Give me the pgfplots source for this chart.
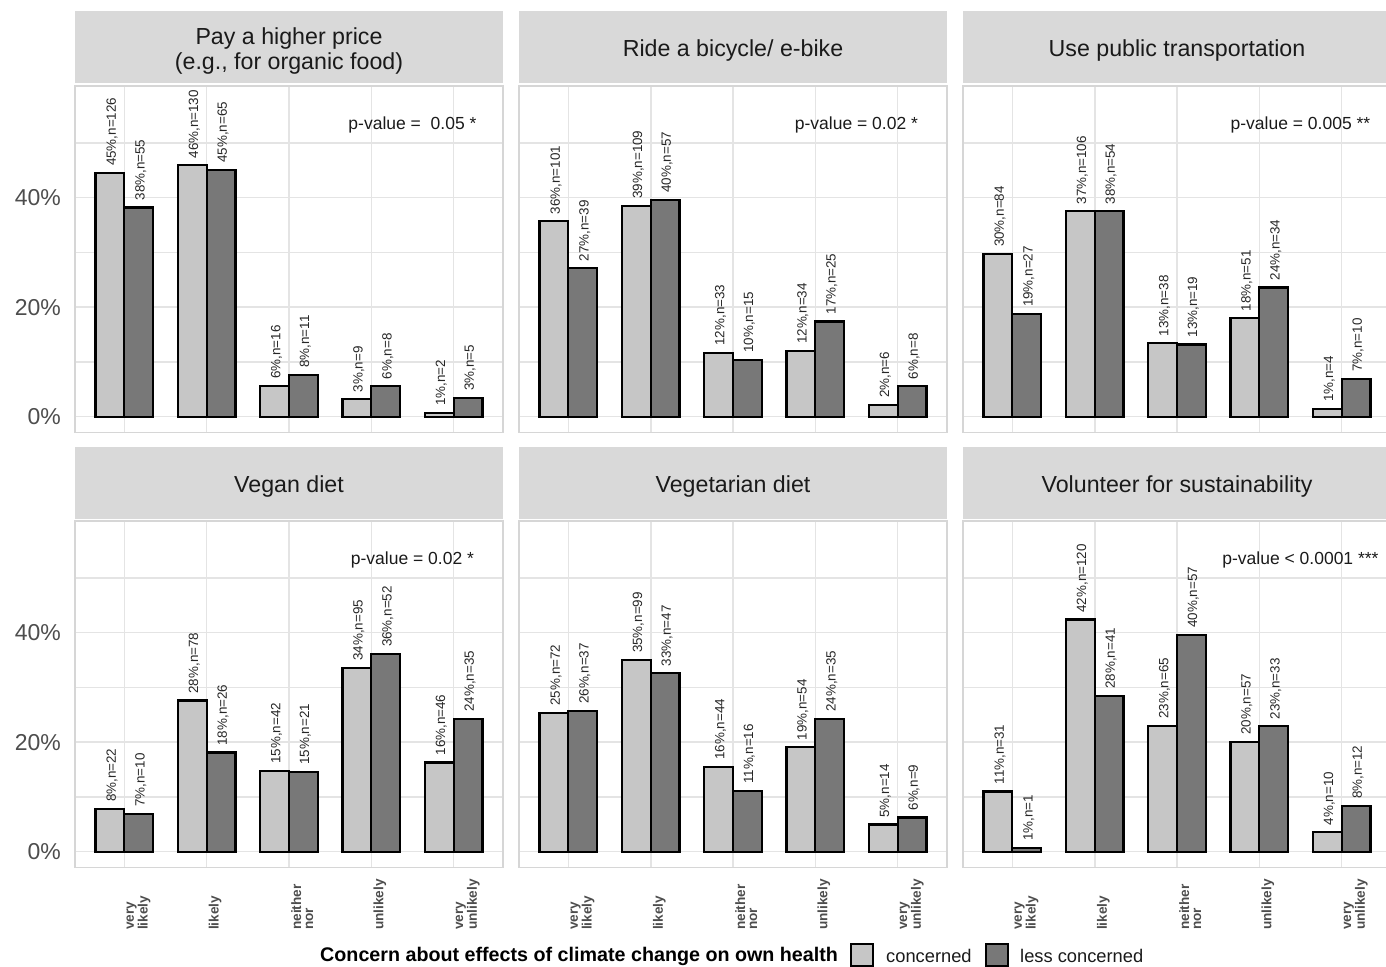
\documentclass[border=0pt]{standalone}
\usepackage{pgfplots}
\pgfplotsset{compat=1.18}
\usepackage{fontspec}
\setmainfont{Liberation Sans}
\definecolor{cc}{RGB}{198,198,198}
\definecolor{lc}{RGB}{120,120,120}
\definecolor{gridc}{RGB}{228,228,228}
\definecolor{borderc}{RGB}{214,214,214}
\definecolor{stripc}{RGB}{217,217,217}
\definecolor{axtext}{RGB}{77,77,77}
\definecolor{strtext}{RGB}{26,26,26}
\definecolor{labc}{RGB}{38,38,38}
\pgfplotsset{
 panel/.style={
   scale only axis, width=428pt, height=346.4pt,
   anchor=south west,
   xmin=0.4, xmax=5.6, ymin=-2.87, ymax=60.4,
   ybar, bar width=0.35,
   xtick={1,2,3,4,5}, ytick={0,20,40}, minor ytick={10,30,50},
   xticklabels={}, yticklabels={},
   xmajorgrids, ymajorgrids, yminorgrids,
   major grid style={line width=1.6pt, draw=gridc},
   minor grid style={line width=1.5pt, draw=gridc},
   major tick length=0pt, minor tick length=0pt,
   axis line style={line width=1.5pt, draw=borderc},
   clip=false,
   point meta=explicit symbolic,
   nodes near coords,
   nodes near coords style={font=\fontsize{13.4}{14}\selectfont, text=labc, xshift=2pt, yshift=6pt, rotate=90, anchor=west, inner sep=0pt},
 },
 cbar/.style={ybar, fill=cc, draw=black, line width=2.2pt, bar shift=-0.175},
 lbar/.style={ybar, fill=lc, draw=black, line width=2.2pt, bar shift=0.175},
 leftcol/.style={yticklabels={\mbox{0\%},\mbox{20\%},\mbox{40\%}}, yticklabel style={font=\fontsize{23}{24}\selectfont, text=axtext, anchor=east, inner sep=0pt, xshift=-14pt}},
 bottomrow/.style={xticklabels={{very\\likely},likely,{neither\\nor},unlikely,{very\\unlikely}}, xticklabel style={font=\fontsize{13.6}{12}\selectfont\bfseries, text=axtext, align=left, xshift=2pt, yshift=-62.6pt, rotate=90, anchor=north west, inner sep=0pt}},
}
\tikzset{striptext/.style={font=\fontsize{23.2}{25}\selectfont, text=strtext, align=center, inner sep=0pt},
 pval/.style={font=\fontsize{17.5}{18}\selectfont, text=strtext}}
\begin{document}
\begin{tikzpicture}
% Row 1
\begin{axis}[panel, leftcol, at={(75pt,-432.4pt)}]
\addplot[cbar] coordinates {(1,44.5) [45\%,n=126] (2,45.9) [46\%,n=130] (3,5.65) [6\%,n=16] (4,3.18) [3\%,n=9] (5,0.71) [1\%,n=2]};
\addplot[lbar] coordinates {(1,38.2) [38\%,n=55] (2,45.1) [45\%,n=65] (3,7.64) [8\%,n=11] (4,5.56) [6\%,n=8] (5,3.47) [3\%,n=5]};
\node[pval] at (axis cs:4.5,53.3) {p-value = \ 0.05 *};
\end{axis}
\begin{axis}[panel, at={(519pt,-432.4pt)}]
\addplot[cbar] coordinates {(1,35.7) [36\%,n=101] (2,38.5) [39\%,n=109] (3,11.7) [12\%,n=33] (4,12.0) [12\%,n=34] (5,2.12) [2\%,n=6]};
\addplot[lbar] coordinates {(1,27.1) [27\%,n=39] (2,39.6) [40\%,n=57] (3,10.4) [10\%,n=15] (4,17.4) [17\%,n=25] (5,5.56) [6\%,n=8]};
\node[pval] at (axis cs:4.5,53.3) {p-value = 0.02 *};
\end{axis}
\begin{axis}[panel, at={(963pt,-432.4pt)}]
\addplot[cbar] coordinates {(1,29.7) [30\%,n=84] (2,37.5) [37\%,n=106] (3,13.4) [13\%,n=38] (4,18.0) [18\%,n=51] (5,1.41) [1\%,n=4]};
\addplot[lbar] coordinates {(1,18.75) [19\%,n=27] (2,37.5) [38\%,n=54] (3,13.2) [13\%,n=19] (4,23.6) [24\%,n=34] (5,6.94) [7\%,n=10]};
\node[pval] at (axis cs:4.5,53.3) {p-value = 0.005 **};
\end{axis}
% Row 2
\begin{axis}[panel, leftcol, bottomrow, at={(75pt,-867.4pt)}]
\addplot[cbar] coordinates {(1,7.8) [8\%,n=22] (2,27.6) [28\%,n=78] (3,14.8) [15\%,n=42] (4,33.6) [34\%,n=95] (5,16.3) [16\%,n=46]};
\addplot[lbar] coordinates {(1,6.94) [7\%,n=10] (2,18.1) [18\%,n=26] (3,14.6) [15\%,n=21] (4,36.1) [36\%,n=52] (5,24.3) [24\%,n=35]};
\node[pval] at (axis cs:4.5,53.3) {p-value = 0.02 *};
\end{axis}
\begin{axis}[panel, bottomrow, at={(519pt,-867.4pt)}]
\addplot[cbar] coordinates {(1,25.4) [25\%,n=72] (2,35.0) [35\%,n=99] (3,15.5) [16\%,n=44] (4,19.1) [19\%,n=54] (5,4.95) [5\%,n=14]};
\addplot[lbar] coordinates {(1,25.7) [26\%,n=37] (2,32.6) [33\%,n=47] (3,11.1) [11\%,n=16] (4,24.3) [24\%,n=35] (5,6.25) [6\%,n=9]};
\end{axis}
\begin{axis}[panel, bottomrow, at={(963pt,-867.4pt)}]
\addplot[cbar] coordinates {(1,11.0) [11\%,n=31] (2,42.4) [42\%,n=120] (3,23.0) [23\%,n=65] (4,20.1) [20\%,n=57] (5,3.53) [4\%,n=10]};
\addplot[lbar] coordinates {(1,0.69) [1\%,n=1] (2,28.5) [28\%,n=41] (3,39.6) [40\%,n=57] (4,22.9) [23\%,n=33] (5,8.33) [8\%,n=12]};
\node[pval] at (axis cs:4.5,53.3) {p-value < 0.0001 ***};
\end{axis}
% Strips
\fill[stripc] (75pt,-11pt) rectangle (503pt,-83pt);
\fill[stripc] (519pt,-11pt) rectangle (947pt,-83pt);
\fill[stripc] (963pt,-11pt) rectangle (1391pt,-83pt);
\fill[stripc] (75pt,-447pt) rectangle (503pt,-519pt);
\fill[stripc] (519pt,-447pt) rectangle (947pt,-519pt);
\fill[stripc] (963pt,-447pt) rectangle (1391pt,-519pt);
\node[striptext] at (289pt,-51pt) {Pay a higher price\\(e.g., for organic food)};
\node[striptext] at (733pt,-51pt) {Ride a bicycle/ e-bike};
\node[striptext] at (1177pt,-51pt) {Use public transportation};
\node[striptext] at (289pt,-486pt) {Vegan diet};
\node[striptext] at (733pt,-486pt) {Vegetarian diet};
\node[striptext] at (1177pt,-486pt) {Volunteer for sustainability};
% Legend
\node[anchor=west, inner sep=0pt, font=\fontsize{19.7}{20}\selectfont\bfseries, text=black] at (320pt,-956pt) {Concern about effects of climate change on own health};
\draw[fill=cc, draw=black, line width=1.6pt] (851pt,-944pt) rectangle (873pt,-966pt);
\node[anchor=west, inner sep=0pt, font=\fontsize{18.3}{19}\selectfont, text=strtext] at (886pt,-956pt) {concerned};
\draw[fill=lc, draw=black, line width=1.6pt] (986pt,-944pt) rectangle (1008pt,-966pt);
\node[anchor=west, inner sep=0pt, font=\fontsize{18.3}{19}\selectfont, text=strtext] at (1020pt,-956pt) {less concerned};
\pgfresetboundingbox
\useasboundingbox (0pt,0pt) rectangle (1386pt,-966pt);
\end{tikzpicture}
\end{document}
